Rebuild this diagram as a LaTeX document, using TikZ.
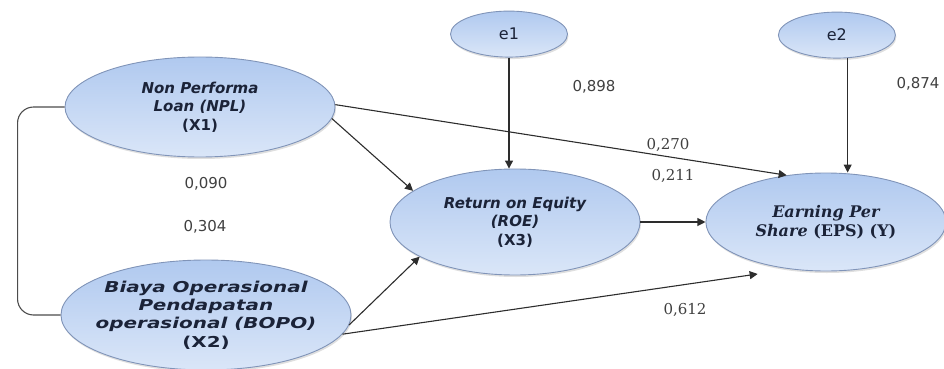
\documentclass[tikz,border=0pt]{standalone}
\usepackage{fontspec}
\setmainfont{DejaVu Sans}
\newfontfamily\serifnum{DejaVu Serif}
\newfontfamily\widesans[FakeStretch=1.33]{DejaVu Sans}
\usetikzlibrary{shapes.geometric, arrows.meta, positioning, shadows}
\definecolor{ellfillA}{RGB}{176,201,239}
\definecolor{ellfillB}{RGB}{218,230,248}
\definecolor{elldraw}{RGB}{128,148,184}
\definecolor{elltext}{RGB}{27,35,56}
\definecolor{coeftext}{RGB}{64,64,64}
\definecolor{linegray}{RGB}{45,45,45}
\tikzset{
    construct/.style={ellipse, draw=elldraw, line width=0.9pt, top color=ellfillA, bottom color=ellfillB,
                      inner sep=-20pt, align=center, text=elltext,
                      font=\fontsize{15}{18.5}\selectfont\bfseries\itshape,
                      drop shadow={opacity=0.25, shadow xshift=1pt, shadow yshift=-2pt}},
    errterm/.style={construct, minimum width=117pt, minimum height=46pt,
                    font=\fontsize{16}{18}\selectfont},
    effect/.style={-{Triangle[length=8pt, width=8pt]}, draw=linegray, line width=1.1pt},
    corr/.style={draw=linegray!85, line width=1.1pt, rounded corners=16pt},
    coef/.style={font=\fontsize{15}{18}\selectfont, text=coeftext, inner sep=1pt},
    coefserif/.style={coef, font=\serifnum\fontsize{15}{18}\selectfont},
}
\begin{document}
\begin{tikzpicture}[x=1pt, y=-1pt]
    \useasboundingbox (0,0) rectangle (944,369);

    % exogenous constructs
    \node[construct, minimum width=270pt, minimum height=100pt] (NPL) at (200,107)
        {Non Performa\\Loan (NPL)\\{\upshape (X1)}};
    \node[construct, minimum width=290pt, minimum height=110pt,
          font=\widesans\fontsize{15}{18.3}\selectfont\bfseries\itshape] (BOPO) at (206,315)
        {Biaya Operasional\\Pendapatan\\operasional (BOPO)\\{\upshape (X2)}};

    % intervening and dependent
    \node[construct, minimum width=250pt, minimum height=106pt] (ROE) at (515,222)
        {Return on Equity\\(ROE)\\{\upshape (X3)}};
    \node[construct, minimum width=240pt, minimum height=98pt, right=65pt of ROE,
          font=\serifnum\fontsize{16}{19}\selectfont\bfseries\itshape] (EPS)
        {Earning Per\\Share {\upshape (EPS) (Y)}};

    % error terms
    \node[errterm, above=111pt of ROE, xshift=-6pt] (e1) {e1};
    \node[errterm, above=114pt of EPS, xshift=11pt] (e2) {e2};

    % paths
    \draw[effect] (NPL.-5) -- (ROE.163);
    \draw[effect] (NPL.1) -- (EPS.130);
    \draw[effect] (BOPO.-4) -- (ROE.200);
    \draw[effect, shorten >=33pt] (BOPO.-8) -- (EPS.233);
    \draw[effect] (ROE) -- (EPS);
    \draw[effect] (e1.south) -- (e1.south |- ROE.north);
    \draw[effect] (e2.-65) -- (e2.-65 |- EPS.north);

    % correlation X1 -- X2
    \draw[corr] (NPL.west) -- ++(-47,0) |- (BOPO.west);

    % coefficients
    \node[coef] (c898) at (594,87) {0,898};
    \node[coef] (c874) at (918,84) {0,874};
    \node[coefserif] (c270) at (668,145) {0,270};
    \node[coefserif] (c211) at (673,176) {0,211};
    \node[coef] (c090) at (206,184) {0,090};
    \node[coef] (c304) at (205,227) {0,304};
    \node[coefserif] (c612) at (685,310) {0,612};

\end{tikzpicture}
\end{document}
